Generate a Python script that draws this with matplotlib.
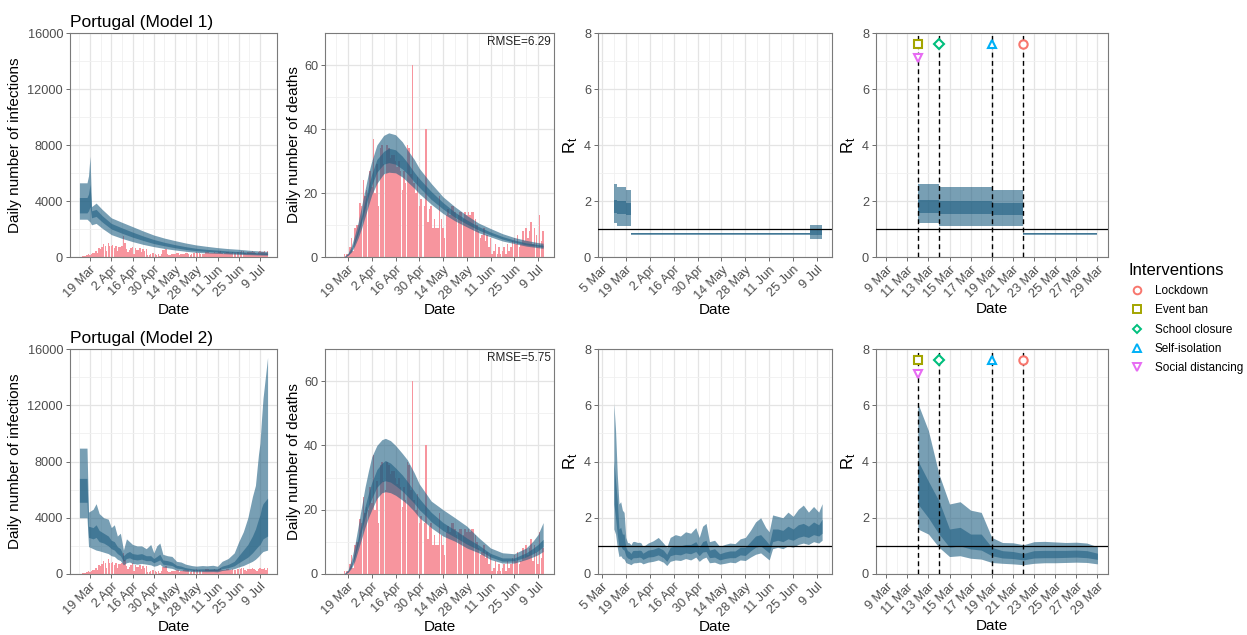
import numpy as np
import matplotlib
matplotlib.use('Agg')
import matplotlib.pyplot as plt
import matplotlib.dates as mdates
from matplotlib.lines import Line2D

plt.rcParams['font.family'] = ['Liberation Sans', 'DejaVu Sans']

# ---------------- data ----------------
cases_start = np.datetime64('2020-03-12')
cases = [19, 34, 57, 76, 86, 117, 194,
         143, 235, 260, 320, 460, 302, 633,
         549, 724, 902, 792, 446, 1035, 808,
         783, 852, 638, 754, 452, 712, 699,
         815, 1516, 1002, 598, 349, 514, 643,
         750, 181, 663, 521, 516, 629, 371,
         603, 444, 595, 163, 174, 183, 295,
         320, 180, 170, 240, 90, 180, 530,
         480, 550, 220, 140, 160, 230, 190,
         230, 290, 270, 130, 180, 220, 250,
         260, 290, 250, 140, 220, 300, 270,
         350, 300, 280, 200, 190, 240, 370,
         350, 380, 270, 290, 270, 340, 300,
         290, 390, 420, 300, 250, 290, 330,
         340, 300, 320, 380, 260, 310, 350,
         360, 380, 450, 400, 310, 220, 330,
         350, 390, 400, 380, 310, 230, 370,
         420, 390, 340, 440, 300, 460]

deaths_start = np.datetime64('2020-03-17')
deaths = [1, 1, 1, 3, 6, 2, 9,
          10, 10, 17, 16, 24, 19, 21,
          20, 27, 22, 37, 20, 29, 16,
          34, 35, 29, 26, 35, 34, 31,
          32, 32, 30, 28, 30, 27, 21,
          27, 23, 35, 34, 26, 60, 23,
          20, 25, 16, 18, 0, 16, 40,
          11, 15, 16, 9, 12, 9, 9,
          19, 12, 9, 6, 13, 15, 13,
          16, 16, 14, 12, 13, 14, 14,
          12, 14, 13, 14, 13, 14, 14,
          12, 10, 8, 6, 7, 9, 5,
          7, 3, 6, 1, 2, 4, 1,
          3, 1, 2, 3, 1, 4, 2,
          3, 5, 6, 4, 7, 3, 4,
          8, 5, 9, 6, 8, 11, 4,
          9, 7, 3, 13, 5, 8]

# model 1 infections (lo90, lo50, hi50, hi90)
inf1_dates = ['2020-03-12', '2020-03-17', '2020-03-18', '2020-03-19', '2020-03-20',
              '2020-03-23', '2020-03-27', '2020-04-02', '2020-04-09', '2020-04-16',
              '2020-04-23', '2020-04-30', '2020-05-07', '2020-05-14', '2020-05-21',
              '2020-05-28', '2020-06-04', '2020-06-11', '2020-06-18', '2020-06-25',
              '2020-07-02', '2020-07-09', '2020-07-14']
inf1_lo = [2700, 2700, 2600, 2500, 2300, 2400, 2050, 1600, 1330, 1100, 900, 740, 610, 500,
           410, 330, 290, 260, 225, 190, 165, 140, 130]
inf1_ilo = [3150, 3150, 3300, 3600, 2800, 2900, 2500, 2000, 1700, 1420, 1180, 960, 800, 660,
            540, 450, 395, 350, 300, 265, 230, 200, 185]
inf1_ihi = [4250, 4250, 4500, 5200, 3300, 3400, 2950, 2400, 2080, 1780, 1500, 1250, 1050, 880,
            740, 620, 545, 490, 430, 380, 335, 300, 280]
inf1_hi = [5300, 5300, 5800, 7200, 3600, 3850, 3400, 2800, 2480, 2170, 1860, 1570, 1350, 1170,
           1000, 860, 760, 670, 600, 550, 480, 430, 400]

# model 2 infections
inf2_dates = ['2020-03-12', '2020-03-17', '2020-03-18', '2020-03-21', '2020-03-23',
              '2020-03-25', '2020-03-28', '2020-03-31', '2020-04-02', '2020-04-04',
              '2020-04-06', '2020-04-08', '2020-04-10', '2020-04-12', '2020-04-14',
              '2020-04-16', '2020-04-19', '2020-04-22', '2020-04-25', '2020-04-28',
              '2020-04-30', '2020-05-02', '2020-05-04', '2020-05-06', '2020-05-09',
              '2020-05-12', '2020-05-15', '2020-05-18', '2020-05-21', '2020-05-25',
              '2020-05-28', '2020-06-01', '2020-06-04', '2020-06-08', '2020-06-11',
              '2020-06-14', '2020-06-18', '2020-06-22', '2020-06-25', '2020-06-28',
              '2020-07-01', '2020-07-04', '2020-07-06', '2020-07-08', '2020-07-09',
              '2020-07-10', '2020-07-11', '2020-07-14']
inf2_lo = [4000, 4000, 1950, 1800, 1700, 1650, 1550, 1450, 1300, 1250, 1050, 950, 650, 800,
           850, 750, 700, 750, 700, 650, 550, 600, 700, 500, 450, 400, 280, 250, 200, 180,
           150, 170, 160, 170, 150, 250, 300, 380, 500, 600, 750, 900, 1050, 1250, 1380,
           1500, 1600, 1700]
inf2_ilo = [5100, 5100, 2600, 2500, 2600, 2300, 2200, 2000, 1800, 1700, 1450, 1300, 900, 1100,
            1150, 1050, 1000, 1050, 950, 950, 800, 900, 1000, 700, 650, 600, 420, 380, 300,
            260, 230, 250, 240, 250, 230, 380, 450, 580, 800, 1000, 1200, 1500, 1750, 2000,
            2100, 2300, 2500, 2700]
inf2_ihi = [6800, 6800, 3400, 3300, 3500, 3100, 2900, 2700, 2400, 2300, 1950, 1800, 1300, 1500,
            1600, 1450, 1400, 1450, 1300, 1300, 1100, 1250, 1400, 1000, 950, 850, 620, 560,
            450, 380, 350, 370, 360, 380, 370, 560, 680, 900, 1300, 1700, 2100, 2700, 3200,
            3900, 4200, 4700, 5000, 5400]
inf2_hi = [8950, 8950, 4400, 4600, 5000, 4300, 4000, 3900, 3300, 3500, 2700, 2900, 1700, 2500,
           2300, 2100, 2000, 2000, 1800, 2100, 1500, 2000, 2200, 1400, 1300, 1250, 900, 850,
           700, 600, 560, 600, 580, 620, 550, 900, 1100, 1500, 2300, 3000, 4000, 5500, 6300,
           8500, 9300, 11000, 12500, 15400]

# model 1 deaths
dth1_dates = ['2020-03-17', '2020-03-19', '2020-03-21', '2020-03-23', '2020-03-25',
              '2020-03-27', '2020-03-29', '2020-03-31', '2020-04-02', '2020-04-05',
              '2020-04-09', '2020-04-12', '2020-04-16', '2020-04-20', '2020-04-23',
              '2020-04-27', '2020-04-30', '2020-05-07', '2020-05-14', '2020-05-21',
              '2020-05-28', '2020-06-04', '2020-06-11', '2020-06-18', '2020-06-25',
              '2020-07-02', '2020-07-09', '2020-07-12']
dth1_lo = [0, 0.5, 1.5, 3.5, 6, 9, 12.5, 16, 19.5, 23, 26, 26.5, 26.3, 25, 23.5, 21.5, 19.8,
           16.5, 13.6, 11.3, 9.4, 7.6, 6.3, 5.0, 4.2, 3.4, 2.9, 2.7]
dth1_ilo = [0, 0.7, 2, 4.5, 7.5, 11, 15, 19, 22.5, 26.5, 29, 29.5, 29, 27.5, 26, 23.5, 21.8,
            18, 15, 12.4, 10.3, 8.4, 6.9, 5.6, 4.6, 3.8, 3.3, 3.1]
dth1_ihi = [0.1, 0.9, 2.5, 5.5, 9, 13, 17.5, 22, 26, 30.5, 33, 34, 33.5, 31.5, 29.5, 26.5,
            24.5, 20.5, 17, 14, 11.6, 9.5, 7.8, 6.4, 5.3, 4.4, 3.9, 3.7]
dth1_hi = [0.3, 1.2, 3.5, 7, 11, 16, 21, 26, 30, 35, 38, 38.8, 38.2, 36, 33.5, 30.5, 27.7,
           23, 18.8, 15.7, 13, 10.6, 8.9, 7.3, 6.1, 5.2, 4.5, 4.3]

# model 2 deaths
dth2_dates = ['2020-03-17', '2020-03-19', '2020-03-21', '2020-03-23', '2020-03-25',
              '2020-03-27', '2020-03-29', '2020-03-31', '2020-04-02', '2020-04-05',
              '2020-04-08', '2020-04-10', '2020-04-13', '2020-04-16', '2020-04-20',
              '2020-04-23', '2020-04-27', '2020-04-30', '2020-05-04', '2020-05-07',
              '2020-05-14', '2020-05-21', '2020-05-28', '2020-06-04', '2020-06-11',
              '2020-06-18', '2020-06-25', '2020-07-02', '2020-07-06', '2020-07-09',
              '2020-07-12']
dth2_lo = [0, 0.5, 1.8, 4, 7.5, 11, 14.5, 17.5, 20, 23.5, 25.3, 25.6, 25.3, 24.5, 23, 21.7,
           19.5, 17.5, 15.8, 14.4, 11.8, 10.2, 8.1, 6.6, 4.5, 3.4, 3.4, 4.5, 5.3, 6, 7]
dth2_ilo = [0, 0.7, 2.4, 5.3, 9.5, 13.5, 17.5, 21, 23.5, 27, 28.7, 29, 28.6, 27.5, 25.8, 24.2,
            22, 20, 18, 16.3, 13.5, 11.5, 9.3, 7.5, 5.3, 4, 4.1, 5.3, 6.3, 7.2, 8.5]
dth2_ihi = [0.1, 0.9, 3, 6.7, 11.5, 16, 21, 25, 28.5, 32.5, 34.5, 35.3, 34.5, 33, 30.8, 28.8,
            25.8, 23.5, 21, 19.2, 16, 13.7, 11.2, 9, 6.4, 5, 5, 6.6, 8, 9.2, 10.8]
dth2_hi = [0.3, 1.3, 4.5, 9, 15, 21, 27, 32, 36.5, 40, 41.8, 42.2, 41.5, 40, 37.5, 35.5, 31.5,
           28, 25, 22.7, 20, 17.5, 14.9, 11.3, 8.1, 6.6, 6.3, 8.1, 10.2, 12.3, 16]

# model 1 Rt: piecewise constant segments
rt1_edges = ['2020-03-12', '2020-03-14', '2020-03-19', '2020-03-22', '2020-07-05', '2020-07-12']
rt1_lo = [1.2, 1.12, 1.1, 0.79, 0.63]
rt1_ilo = [1.58, 1.55, 1.5, 0.81, 0.8]
rt1_ihi = [2.05, 2.0, 1.92, 0.84, 1.0]
rt1_hi = [2.62, 2.5, 2.38, 0.86, 1.15]

# model 2 Rt
rt2_dates = ['2020-03-12', '2020-03-13', '2020-03-14', '2020-03-15', '2020-03-16',
             '2020-03-17', '2020-03-18', '2020-03-19', '2020-03-20', '2020-03-21',
             '2020-03-22', '2020-03-23', '2020-03-24', '2020-03-25', '2020-03-26',
             '2020-03-27', '2020-03-28', '2020-03-29', '2020-04-01', '2020-04-04',
             '2020-04-07', '2020-04-10', '2020-04-12', '2020-04-14', '2020-04-17',
             '2020-04-20', '2020-04-23', '2020-04-26', '2020-04-29', '2020-05-01',
             '2020-05-03', '2020-05-05', '2020-05-07', '2020-05-10', '2020-05-13',
             '2020-05-16', '2020-05-19', '2020-05-22', '2020-05-25', '2020-05-28',
             '2020-05-31', '2020-06-03', '2020-06-06', '2020-06-09', '2020-06-11',
             '2020-06-13', '2020-06-16', '2020-06-19', '2020-06-22', '2020-06-25',
             '2020-06-28', '2020-07-01', '2020-07-04', '2020-07-07', '2020-07-10',
             '2020-07-12']
rt2_lo = [1.6, 1.42, 0.95, 0.62, 0.65, 0.56, 0.53, 0.41, 0.38, 0.36, 0.33, 0.38, 0.4, 0.4,
          0.41, 0.42, 0.41, 0.36, 0.42, 0.45, 0.5, 0.42, 0.3, 0.45, 0.5, 0.48, 0.55, 0.5,
          0.6, 0.45, 0.55, 0.6, 0.4, 0.42, 0.35, 0.38, 0.42, 0.4, 0.5, 0.48, 0.6, 0.7, 0.75,
          0.6, 0.5, 0.9, 0.95, 0.9, 1.0, 0.95, 1.05, 1.1, 1.05, 1.15, 1.1, 1.2]
rt2_ilo = [2.49, 2.0, 1.42, 0.95, 1.0, 0.89, 0.85, 0.65, 0.57, 0.55, 0.5, 0.57, 0.58, 0.58,
           0.59, 0.6, 0.58, 0.52, 0.6, 0.62, 0.68, 0.58, 0.45, 0.65, 0.7, 0.68, 0.75, 0.72,
           0.8, 0.65, 0.78, 0.8, 0.58, 0.6, 0.5, 0.55, 0.58, 0.58, 0.68, 0.66, 0.82, 0.95, 1.0,
           0.85, 0.75, 1.15, 1.2, 1.15, 1.25, 1.2, 1.3, 1.35, 1.3, 1.4, 1.35, 1.45]
rt2_ihi = [4.03, 3.3, 2.6, 1.6, 1.66, 1.42, 1.42, 0.95, 0.83, 0.8, 0.73, 0.83, 0.84, 0.84,
           0.84, 0.85, 0.83, 0.74, 0.85, 0.88, 0.95, 0.85, 0.7, 0.95, 1.0, 1.0, 1.05, 1.05,
           1.15, 0.95, 1.15, 1.2, 0.85, 0.9, 0.72, 0.78, 0.82, 0.82, 0.95, 0.95, 1.15, 1.35,
           1.4, 1.2, 1.05, 1.6, 1.6, 1.55, 1.7, 1.6, 1.75, 1.8, 1.7, 1.85, 1.75, 1.95]
rt2_hi = [6.07, 5.1, 3.55, 2.49, 2.57, 2.27, 2.19, 1.3, 1.12, 1.11, 1.04, 1.15, 1.16, 1.14,
          1.12, 1.13, 1.1, 0.97, 1.1, 1.18, 1.3, 1.1, 0.95, 1.3, 1.4, 1.35, 1.5, 1.45, 1.65,
          1.3, 1.7, 1.8, 1.15, 1.2, 0.98, 1.05, 1.1, 1.08, 1.25, 1.3, 1.55, 1.85, 2.0, 1.65,
          1.5, 2.1, 2.05, 2.0, 2.2, 2.05, 2.3, 2.45, 2.2, 2.4, 2.2, 2.5]

interventions = ['Lockdown', 'Event ban', 'School closure', 'Self-isolation', 'Social distancing']
intervention_dates = ['2020-03-22', '2020-03-12', '2020-03-14', '2020-03-19', '2020-03-12']
intervention_y = [7.6, 7.6, 7.6, 7.6, 7.1]
intervention_markers = ['o', 's', 'D', '^', 'v']
intervention_colors = ['#F8766D', '#A3A500', '#00BF7D', '#00B0F6', '#E76BF3']

rmse = ['6.29', '5.75']
titles = ['Portugal (Model 1)', 'Portugal (Model 2)']

# ---------------- style ----------------
BAND = '#1f5f82'
BAR = '#f7959e'
W, H = 1247, 635
fmt = mdates.DateFormatter('%-d %b')


def dt(lst):
    return np.array(lst, dtype='datetime64[D]')


def pos(x0, x1, y0, y1):
    return [x0 / W, 1 - y1 / H, (x1 - x0) / W, (y1 - y0) / H]


def style(ax, xticks, xminor, yticks, yminor, xlim, ylim):
    ax.set_xlim(np.datetime64(xlim[0]), np.datetime64(xlim[1]))
    ax.set_ylim(*ylim)
    ax.set_xticks(xticks)
    ax.set_xticks(xminor, minor=True)
    ax.set_yticks(yticks)
    ax.set_yticks(yminor, minor=True)
    ax.xaxis.set_major_formatter(fmt)
    ax.grid(True, which='major', color='#e4e4e4', lw=0.9, zorder=0)
    ax.grid(True, which='minor', color='#f0f0f0', lw=0.6, zorder=0)
    ax.set_axisbelow(True)
    ax.tick_params(which='major', labelsize=9.2, labelcolor='#4d4d4d', color='#555555',
                   length=3, width=0.6, pad=2)
    ax.tick_params(which='minor', length=0)
    plt.setp(ax.get_xticklabels(), rotation=45, ha='right', rotation_mode='anchor')
    for s in ax.spines.values():
        s.set_color('#7a7a7a')
        s.set_linewidth(0.8)
    ax.set_xlabel('Date', fontsize=11, labelpad=1)


def band(ax, x, lo, ilo, ihi, hi, step=None):
    ax.fill_between(x, lo, hi, color=BAND, alpha=0.6, lw=0, step=step, zorder=3)
    ax.fill_between(x, ilo, ihi, color=BAND, alpha=0.6, lw=0, step=step, zorder=4)


long_ticks = np.arange(np.datetime64('2020-03-19'), np.datetime64('2020-07-10'), 14)
long_minor = long_ticks - 7
rt_ticks = np.arange(np.datetime64('2020-03-05'), np.datetime64('2020-07-10'), 14)
rt_minor = np.arange(np.datetime64('2020-03-12'), np.datetime64('2020-07-17'), 14)
zoom_ticks = np.arange(np.datetime64('2020-03-09'), np.datetime64('2020-03-30'), 2)
zoom_minor = zoom_ticks + 1
zoom_end = np.datetime64('2020-03-29')

cases_x = cases_start + np.arange(len(cases))
deaths_x = deaths_start + np.arange(len(deaths))

fig = plt.figure(figsize=(W / 100, H / 100), dpi=100)
rows = [(33, 257), (349, 574)]
cols = [(70, 277), (325, 554), (598, 832), (876, 1108)]

inf = [(inf1_dates, inf1_lo, inf1_ilo, inf1_ihi, inf1_hi),
       (inf2_dates, inf2_lo, inf2_ilo, inf2_ihi, inf2_hi)]
dth = [(dth1_dates, dth1_lo, dth1_ilo, dth1_ihi, dth1_hi),
       (dth2_dates, dth2_lo, dth2_ilo, dth2_ihi, dth2_hi)]

for r, (y0, y1) in enumerate(rows):
    # infections
    ax = fig.add_axes(pos(*cols[0], y0, y1))
    ax.bar(cases_x, cases, width=0.9, color=BAR, lw=0, zorder=2)
    dd, lo, ilo, ihi, hi = inf[r]
    band(ax, dt(dd), lo, ilo, ihi, hi)
    style(ax, long_ticks, long_minor, [0, 4000, 8000, 12000, 16000],
          [2000, 6000, 10000, 14000], ('2020-03-05T19', '2020-07-20T05'), (0, 16000))
    ax.set_ylabel('Daily number of infections', fontsize=11, labelpad=4)
    ax.set_title(titles[r], loc='left', fontsize=12.5, pad=4)

    # deaths
    ax = fig.add_axes(pos(*cols[1], y0, y1))
    ax.bar(deaths_x, deaths, width=0.9, color=BAR, lw=0, zorder=2)
    dd, lo, ilo, ihi, hi = dth[r]
    band(ax, dt(dd), lo, ilo, ihi, hi)
    style(ax, long_ticks, long_minor, [0, 20, 40, 60], [10, 30, 50],
          ('2020-03-05T10', '2020-07-18T10'), (0, 70))
    ax.set_ylabel('Daily number of deaths', fontsize=11, labelpad=2)
    ax.text(0.985, 0.985, 'RMSE=' + rmse[r], transform=ax.transAxes, ha='right', va='top',
            fontsize=8.5, color='#222222')

    # Rt full period and zoomed period
    for c in (2, 3):
        ax = fig.add_axes(pos(*cols[c], y0, y1))
        if r == 0:
            edges = dt(rt1_edges)
            vals = [rt1_lo, rt1_ilo, rt1_ihi, rt1_hi]
            if c == 3:
                keep = int(np.sum(edges < zoom_end))
                edges = np.append(edges[:keep], zoom_end)
                vals = [v[:keep] for v in vals]
            vals = [list(v) + [v[-1]] for v in vals]
            band(ax, edges, *vals, step='post')
        else:
            x = dt(rt2_dates)
            m = x <= zoom_end if c == 3 else np.ones(len(x), bool)
            band(ax, x[m], np.array(rt2_lo)[m], np.array(rt2_ilo)[m],
                 np.array(rt2_ihi)[m], np.array(rt2_hi)[m])
        ax.axhline(1, color='black', lw=0.9, zorder=5)
        if c == 2:
            style(ax, rt_ticks, rt_minor, [0, 2, 4, 6, 8], [1, 3, 5, 7],
                  ('2020-03-02T17', '2020-07-17T19'), (0, 8))
        else:
            for d0 in set(intervention_dates):
                ax.axvline(np.datetime64(d0), color='black', ls=(0, (3.5, 2.5)), lw=1.0, zorder=5)
            for d0, yv, mk, col in zip(intervention_dates, intervention_y,
                                       intervention_markers, intervention_colors):
                ax.plot(np.datetime64(d0), yv, marker=mk, ms=6 if mk != 'D' else 5,
                        mfc='white', mec=col, mew=1.5, zorder=6, ls='none')
            style(ax, zoom_ticks, zoom_minor, [0, 2, 4, 6, 8], [1, 3, 5, 7],
                  ('2020-03-08T01', '2020-03-29T23'), (0, 8))
        ax.set_ylabel(r'$\mathregular{R_t}$', fontsize=12, labelpad=3)

handles = [Line2D([], [], marker=mk, ls='none', mfc='none', mec=col, mew=1.4,
                  ms=5.5 if mk != 'D' else 4.5)
           for mk, col in zip(intervention_markers, intervention_colors)]
fig.legend(handles, interventions, loc='upper left', bbox_to_anchor=(1124 / W, 1 - 258 / H),
           frameon=False, title='Interventions', title_fontsize=12, fontsize=8.5,
           handlelength=1.4, handletextpad=0.8, labelspacing=0.62, alignment='left',
           borderaxespad=0)

fig.savefig('out.png', dpi=100)
